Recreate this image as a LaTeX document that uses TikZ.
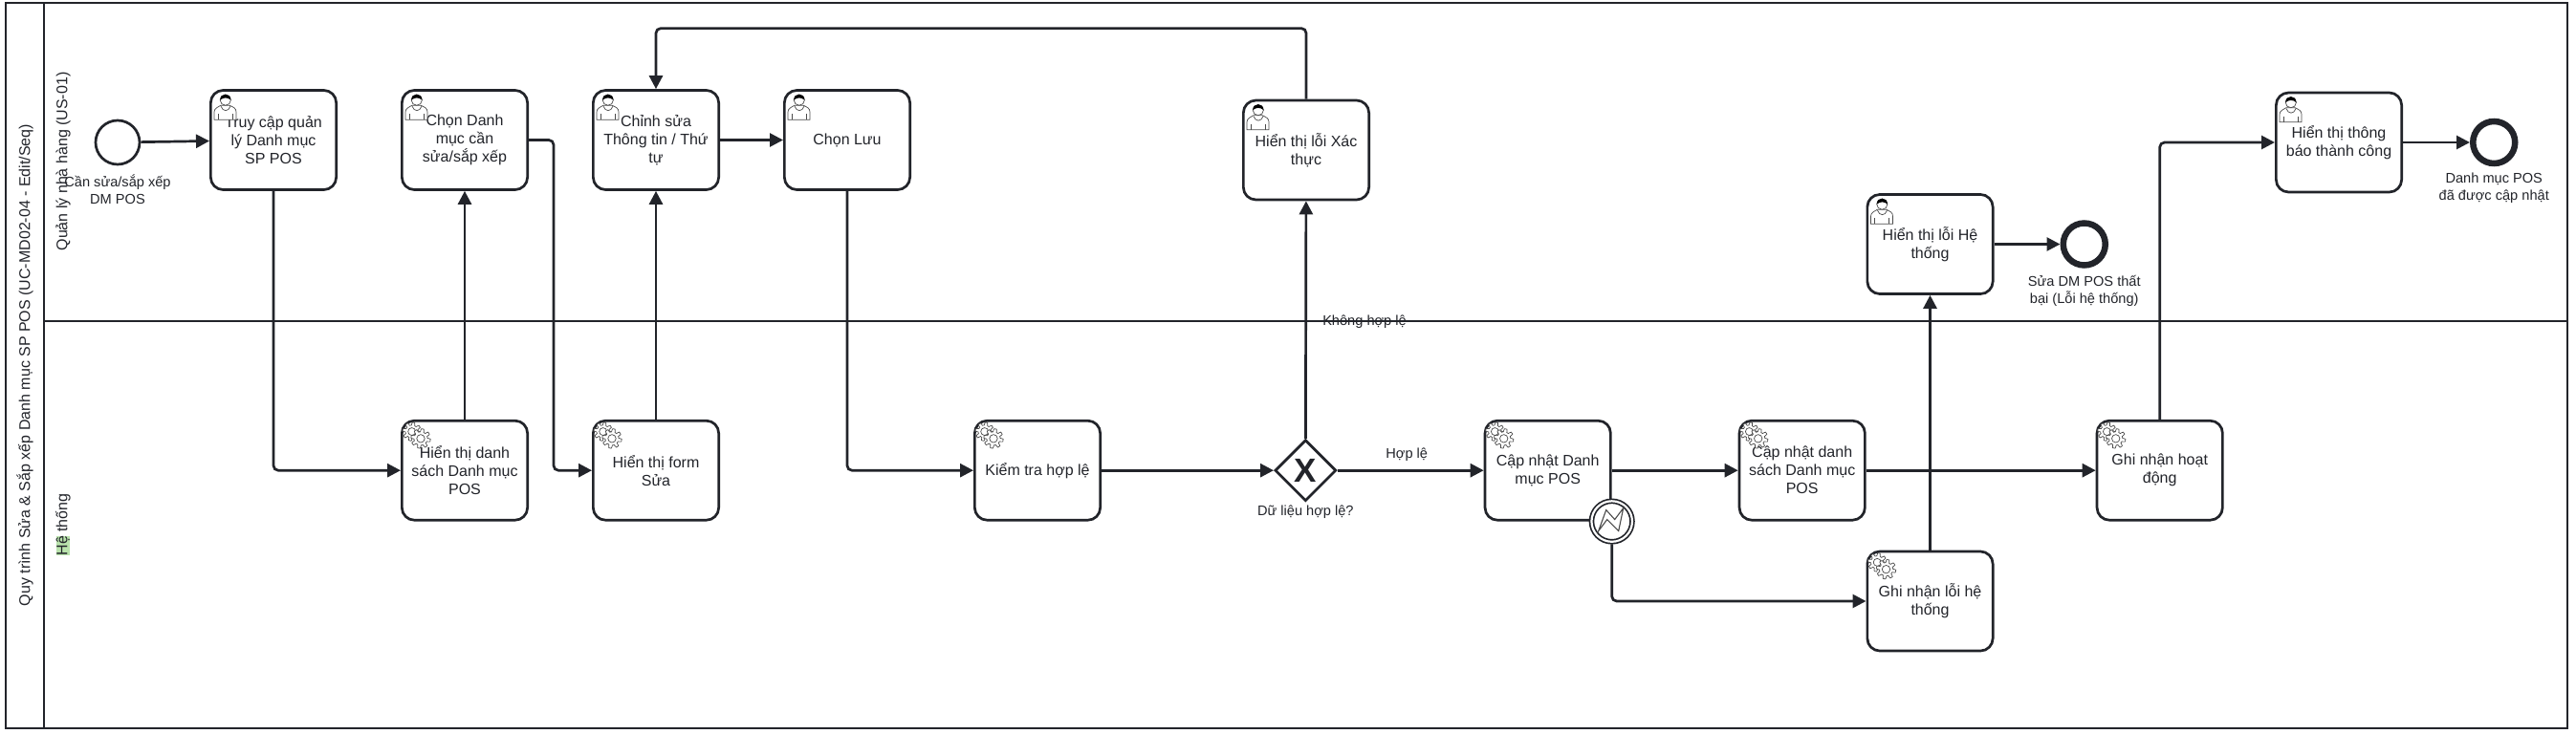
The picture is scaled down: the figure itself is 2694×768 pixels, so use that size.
\documentclass[tikz,border=0pt]{standalone}
\usepackage{fontspec}
\setmainfont{Liberation Sans}
\usetikzlibrary{arrows.meta, positioning, shapes.geometric}

\definecolor{bpmnline}{HTML}{22242A}
\definecolor{iconline}{HTML}{4A4A4A}
\definecolor{hlgreen}{HTML}{B9E3AC}

\begin{document}
\begin{tikzpicture}[
		x=1pt,
		y=-1pt,
		>={Triangle[length=14pt,width=14pt]},
		line width=2.7pt,
		color=bpmnline,
		taskbox/.style={
				rectangle,
				minimum width = 131.3pt,
				minimum height = 104pt,
				inner sep=0pt,
				rounded corners=13pt,
				align=center,
				draw=bpmnline,
				fill=white,
				font=\fontsize{16}{19}\selectfont
			},
		startevent/.style={
				circle,
				minimum size = 46pt,
				inner sep=0pt,
				draw=bpmnline,
				fill=white
			},
		endevent/.style={
				circle,
				minimum size = 44pt,
				inner sep=0pt,
				line width=6.5pt,
				draw=bpmnline,
				fill=white
			},
		boundaryevent/.style={
				circle,
				minimum size = 42.5pt,
				inner sep=0pt,
				outer sep=2.6pt,
				line width=1.7pt,
				double=white,
				double distance=2.2pt,
				draw=bpmnline,
				fill=white
			},
		gatewaybox/.style={
				diamond,
				aspect=1,
				minimum size = 64pt,
				inner sep=0pt,
				draw=bpmnline,
				fill=white,
				font=\fontsize{35}{35}\selectfont\bfseries
			},
		eventlabel/.style={
				inner sep=0pt,
				align=center,
				font=\fontsize{14.6}{18}\selectfont
			},
		lanetitle/.style={
				rotate=90,
				inner sep=0pt,
				font=\fontsize{16}{19}\selectfont
			},
		flow/.style={
				->,
				rounded corners=5pt
			},
		iconstroke/.style={
				line width=0.7pt,
				draw=iconline
			},
		gearwheel/.pic={
				\draw[iconstroke, fill=white, domain=0:360, samples=97, variable=\t]
					plot ({(8.6+1.6*sign(sin(8*\t)))*cos(\t)}, {(8.6+1.6*sign(sin(8*\t)))*sin(\t)}) -- cycle;
				\draw[iconstroke] (0,0) circle (4.2);
			},
		gearicon/.pic={
				\pic[scale=0.95] at (11.7,12.7) {gearwheel};
				\pic at (21,20) {gearwheel};
			},
		usericon/.pic={
				\draw[iconstroke, fill=white] (5,32) -- (5,24) .. controls (5,20) and (9,19) .. (12,17) -- (21,17) .. controls (25,19) and (28,20) .. (28,24) -- (28,32) -- cycle;
				\draw[iconstroke, fill=white] (16.8,11.5) circle (5.6);
				\fill[black] (11.2,11.5) .. controls (11,3.5) and (22.6,3.5) .. (22.4,11.5) .. controls (19,8.5) and (15,8.5) .. (11.2,11.5) -- cycle;
				\draw[iconstroke] (12,18) .. controls (14,24) and (20,24) .. (22,18);
				\draw[iconstroke] (9,26) -- (9,32);
				\draw[iconstroke] (24,26) -- (24,32);
			},
		lightning/.pic={
				\draw[line width=1.1pt, draw=iconline, fill=white, line join=miter] (-14,10) -- (-6,-12) -- (3,-2) -- (12,-14) -- (7,10) -- (-5,-2) -- cycle;
			},
		]

		\useasboundingbox (0,0) rectangle (2694,768);

		\draw (6,3) rectangle (2685,762);

		\coordinate (headtop) at (46,3);

		\coordinate (headbottom) at (46,762);

		\coordinate (laneleft) at (46,336);

		\coordinate (laneright) at (2685,336);

		\draw (headtop) -- (headbottom);

		\draw (laneleft) -- (laneright);

		\node[lanetitle] (processtitle) at (26,382) {Quy trình Sửa \& Sắp xếp Danh mục SP POS (UC-MD02-04 - Edit/Seq)};

		\node[lanetitle] (lanemanager) at (66,169) {Quản lý nhà hàng (US-01)};

		\node[lanetitle] (lanesystem) at (66,549) {\setlength{\fboxsep}{0pt}\colorbox{hlgreen}{Hệ} thống};

		\node[startevent] (start) at (123,149) {};

		\node[eventlabel, below=8pt of start] (startlabel) {Cần sửa/sắp xếp\\DM POS};

		\node[taskbox] (truycap) at (286,146.5) {Truy cập quản\\lý Danh mục\\SP POS};

		\node[taskbox, right=66pt of truycap] (chondanhmuc) {Chọn Danh\\mục cần\\sửa/sắp xếp};

		\node[taskbox, right=66pt of chondanhmuc] (chinhsua) {Chỉnh sửa\\Thông tin / Thứ\\tự};

		\node[taskbox, right=66pt of chinhsua] (chonluu) {Chọn Lưu};

		\node[taskbox, below=239pt of chondanhmuc] (hienthids) {Hiển thị danh\\sách Danh mục\\POS};

		\node[taskbox, right=66pt of hienthids] (formsua) {Hiển thị form\\Sửa};

		\node[taskbox, right=265pt of formsua] (kiemtra) {Kiểm tra hợp lệ};

		\node[gatewaybox, right=180pt of kiemtra] (gateway) {X};

		\node[eventlabel, below=2pt of gateway] (gatewaylabel) {Dữ liệu hợp lệ?};

		\node[taskbox, right=153pt of gateway] (capnhat) {Cập nhật Danh\\mục POS};

		\node[boundaryevent] (loicapnhat) at (capnhat.south east) {};

		\node[taskbox, right=132pt of capnhat] (capnhatds) {Cập nhật danh\\sách Danh mục\\POS};

		\node[taskbox, right=240pt of capnhatds] (ghinhan) {Ghi nhận hoạt\\động};

		\node[taskbox] (ghiloi) at (2018.5,629) {Ghi nhận lỗi hệ\\thống};

		\node[taskbox] (loixacthuc) at (1366,157) {Hiển thị lỗi Xác\\thực};

		\node[taskbox] (loihethong) at (2018.5,255.5) {Hiển thị lỗi Hệ\\thống};

		\node[endevent, right=69pt of loihethong] (endfail) {};

		\node[eventlabel, below=6pt of endfail] (endfaillabel) {Sửa DM POS thất\\bại (Lỗi hệ thống)};

		\node[taskbox] (thongbao) at (2446,149) {Hiển thị thông\\báo thành công};

		\node[endevent, right=70pt of thongbao] (endok) {};

		\node[eventlabel, below=5pt of endok] (endoklabel) {Danh mục POS\\đã được cập nhật};

		\foreach \task in {truycap, chondanhmuc, chinhsua, chonluu, loixacthuc, loihethong, thongbao}
			\pic at (\task.north west) {usericon};

		\foreach \task in {hienthids, formsua, kiemtra, capnhat, capnhatds, ghinhan, ghiloi}
			\pic at (\task.north west) {gearicon};

		\pic at (loicapnhat) {lightning};

		\draw[flow] (start) -- (truycap);

		\draw[flow] (truycap) |- (hienthids);

		\draw[flow] (hienthids) -- (chondanhmuc);

		\draw[flow] (chondanhmuc.east) -- ++(26,0) |- (formsua);

		\draw[flow] (formsua) -- (chinhsua);

		\draw[flow] (chinhsua) -- (chonluu);

		\draw[flow] (chonluu) |- (kiemtra);

		\draw[flow] (kiemtra) -- (gateway);

		\draw[flow] (gateway) -- node[eventlabel, above=8pt, xshift=-4pt] (validlabel) {Hợp lệ} (capnhat);

		\draw[flow] (gateway) -- (loixacthuc);

		\node[eventlabel] (invalidlabel) at (1427,337) {Không hợp lệ};

		\draw[flow] (loixacthuc.north) -- ++(0,-74) -| (chinhsua.north);

		\draw[flow] (capnhat) -- (capnhatds);

		\draw[flow] (capnhatds) -- (ghinhan);

		\draw[flow] (loicapnhat.south) |- (ghiloi);

		\draw[flow] (ghiloi) -- (loihethong);

		\draw[flow] (loihethong) -- (endfail);

		\draw[flow] (ghinhan) |- (thongbao);

		\draw[flow] (thongbao) -- (endok);

	\end{tikzpicture}
\end{document}
